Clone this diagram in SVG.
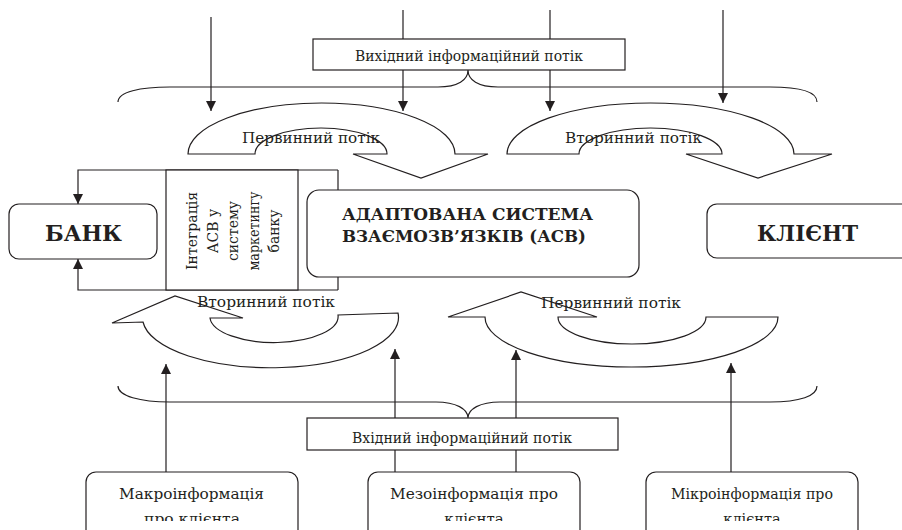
<svg xmlns="http://www.w3.org/2000/svg" width="902" height="530" viewBox="0 0 902 530">
<defs>
<marker id="ah" viewBox="0 0 10 10" refX="10" refY="5" markerWidth="11" markerHeight="10" markerUnits="userSpaceOnUse" orient="auto">
<path d="M0,0 L10,5 L0,10 z" fill="#231f20"/>
</marker>
<clipPath id="clipBottom"><rect x="0" y="0" width="902" height="521"/></clipPath>
</defs>
<style>
.ln{fill:none;stroke:#231f20;stroke-width:1.2}
.arr{fill:none;stroke:#231f20;stroke-width:1.2;marker-end:url(#ah)}
.box{fill:#fff;stroke:#231f20;stroke-width:1.2}
.t{font-family:'DejaVu Serif','Liberation Serif',serif;fill:#231f20;text-anchor:middle}
.b{font-weight:bold}
</style>
<rect width="902" height="530" fill="#fff"/>
<g id="connectors">
<line class="arr" x1="211" y1="17" x2="211" y2="111"/>
<line class="arr" x1="403" y1="10" x2="403" y2="111"/>
<line class="arr" x1="550" y1="10" x2="550" y2="111"/>
<line class="arr" x1="723" y1="10" x2="723" y2="103"/>
<line class="arr" x1="166" y1="472" x2="166" y2="364"/>
<line class="arr" x1="395" y1="472" x2="395" y2="349"/>
<line class="arr" x1="516" y1="472" x2="516" y2="350"/>
<line class="arr" x1="731" y1="472" x2="731" y2="363"/>
<path class="arr" d="M338 170 H78 V204"/>
<path class="arr" d="M338 290 H78 V259"/>
<line class="ln" x1="338" y1="170" x2="338" y2="290"/>
<path id="brace-top" class="ln" d="M118 102 C118 92 140 87 170 87 L438 87 C458 87 468 80 468 70 C468 80 478 87 498 87 L770 87 C800 87 817 92 817 102"/>
<path id="brace-bottom" class="ln" d="M118 386 C118 396 140 402 170 402 L436 402 C456 402 468 409 468 418 C468 409 480 402 500 402 L770 402 C800 402 817 396 817 386"/>
</g>
<g id="out-flow">
<rect class="box" x="313" y="39" width="312" height="31"/>
<text class="t" x="469" y="61" font-size="14" textLength="228" lengthAdjust="spacingAndGlyphs">Вихідний інформаційний потік</text>
</g>
<g id="in-flow">
<rect class="box" x="307" y="418" width="311" height="32"/>
<text class="t" x="462" y="443" font-size="14" textLength="220" lengthAdjust="spacingAndGlyphs">Вхідний інформаційний потік</text>
</g>
<g id="top-primary">
<path class="box" d="M188 154 A133.5 51 0 0 1 455 154 L488 154 L421 178 L353 154 L387 154 A66 26 0 0 0 255 154 Z"/>
<text class="t" x="311" y="143" font-size="15" textLength="138" lengthAdjust="spacingAndGlyphs">Первинний потік</text>
</g>
<g id="top-secondary">
<path class="box" d="M507 154 A143.5 51 0 0 1 794 154 L832 154 L758 178 L686 154 L722 154 A71.5 26 0 0 0 579 154 Z"/>
<text class="t" x="633.5" y="143" font-size="15" textLength="137" lengthAdjust="spacingAndGlyphs">Вторинний потік</text>
</g>
<g id="bottom-secondary">
<path class="box" d="M112 323 L175 296 L243 318 L210 318 A64 26 0 0 0 338 315 L398 313 A127.5 50 0 0 1 143 322 Z"/>
<text class="t" x="266" y="307" font-size="15" textLength="138" lengthAdjust="spacingAndGlyphs">Вторинний потік</text>
</g>
<g id="bottom-primary">
<path class="box" d="M448 317 L521 292 L597 317 L558 317 A74 27 0 0 0 706 317 L778 317 A146.5 50 0 0 1 485 317 Z"/>
<text class="t" x="611" y="308" font-size="15" textLength="140" lengthAdjust="spacingAndGlyphs">Первинний потік</text>
</g>
<g id="bank">
<rect class="box" x="9" y="204" width="148" height="55" rx="10"/>
<text class="t b" x="83.5" y="241" font-size="23" textLength="77" lengthAdjust="spacingAndGlyphs">БАНК</text>
</g>
<g id="integration">
<rect class="box" x="166" y="170" width="132" height="120"/>
<g class="t" font-size="14">
<text transform="translate(197,231) rotate(-90)" textLength="78" lengthAdjust="spacingAndGlyphs">Інтеграція</text>
<text transform="translate(217.5,231) rotate(-90)">АСВ у</text>
<text transform="translate(238,231) rotate(-90)">систему</text>
<text transform="translate(258.5,231) rotate(-90)" textLength="79" lengthAdjust="spacingAndGlyphs">маркетингу</text>
<text transform="translate(279,231) rotate(-90)">банку</text>
</g>
</g>
<g id="acb">
<rect class="box" x="307" y="190" width="332" height="87" rx="12"/>
<text class="t b" x="467.5" y="220" font-size="16" textLength="251" lengthAdjust="spacingAndGlyphs">АДАПТОВАНА СИСТЕМА</text>
<text class="t b" x="464" y="242" font-size="16" textLength="244" lengthAdjust="spacingAndGlyphs">ВЗАЄМОЗВ’ЯЗКІВ (АСВ)</text>
</g>
<g id="client">
<rect class="box" x="707" y="204" width="210" height="54" rx="10"/>
<text class="t b" x="807.5" y="241" font-size="23" textLength="101" lengthAdjust="spacingAndGlyphs">КЛІЄНТ</text>
</g>
<g id="macro">
<rect class="box" x="86" y="472" width="212" height="70" rx="10"/>
<text class="t" x="191.5" y="499" font-size="15.5" textLength="145" lengthAdjust="spacingAndGlyphs">Макроінформація</text>
<text class="t" x="192" y="524" font-size="15.5" clip-path="url(#clipBottom)">про клієнта</text>
</g>
<g id="meso">
<rect class="box" x="368" y="472" width="212" height="70" rx="10"/>
<text class="t" x="474" y="499" font-size="15" textLength="168" lengthAdjust="spacingAndGlyphs">Мезоінформація про</text>
<text class="t" x="474" y="524" font-size="15" clip-path="url(#clipBottom)">клієнта</text>
</g>
<g id="micro">
<rect class="box" x="646" y="472" width="212" height="70" rx="10"/>
<text class="t" x="752" y="499" font-size="14.5" textLength="162" lengthAdjust="spacingAndGlyphs">Мікроінформація про</text>
<text class="t" x="752" y="524" font-size="14.5" clip-path="url(#clipBottom)">клієнта</text>
</g>
</svg>
